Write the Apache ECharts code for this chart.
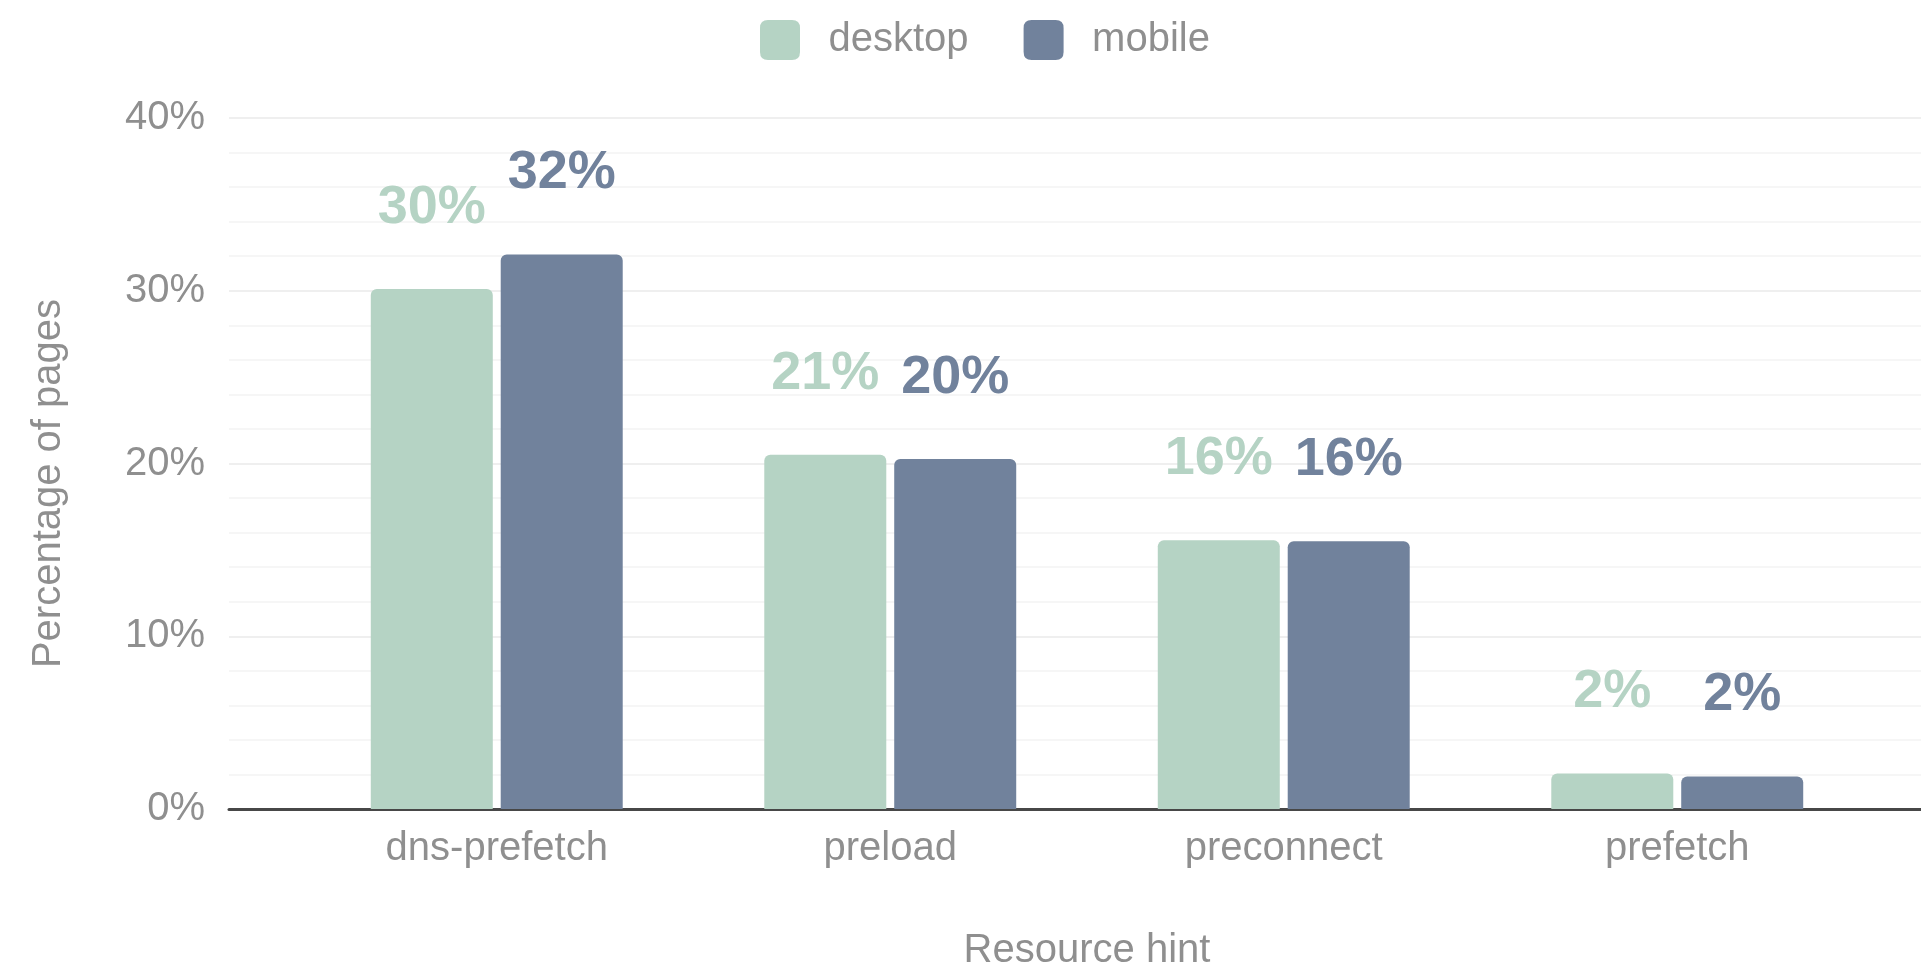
<!DOCTYPE html>
<html>
<head>
<meta charset="utf-8">
<title>Resource hint adoption</title>
<script src="https://cdn.jsdelivr.net/npm/echarts@6/dist/echarts.min.js"></script>
<style>
  html, body { margin: 0; padding: 0; background: #ffffff; }
  #chart { width: 1921px; height: 971px; }
</style>
</head>
<body>
<div id="chart"></div>
<script>
// Share of pages using each resource hint, by client
const categories = ['dns-prefetch', 'preload', 'preconnect', 'prefetch'];
const seriesNames = ['desktop', 'mobile'];
const desktopValues = [30.1, 20.51, 15.55, 2.05];
const mobileValues = [32.1, 20.26, 15.5, 1.88];
const yTicks = [0, 10, 20, 30, 40];

const FONT = '"Liberation Sans", Arial, Helvetica, sans-serif';
const DESKTOP_COLOR = '#b5d3c4';
const MOBILE_COLOR = '#71829c';
const TEXT_GRAY = '#8f8f8f';

// legend swatch: square with slightly rounded corners
const SWATCH = 'path://M2,0 L8,0 Q10,0 10,2 L10,8 Q10,10 8,10 L2,10 Q0,10 0,8 L0,2 Q0,0 2,0 Z';

const chart = echarts.init(document.getElementById('chart'), null, { renderer: 'canvas' });

function barSeries(name, values, color) {
  return {
    name: name,
    type: 'bar',
    xAxisIndex: 1,
    yAxisIndex: 1,
    data: values,
    barWidth: 122,
    barGap: '6.5%',
    itemStyle: { color: color, borderRadius: [6, 6, 0, 0] },
    label: {
      show: true,
      position: 'top',
      distance: 54,
      color: color,
      fontFamily: FONT,
      fontWeight: 'bold',
      fontSize: 54,
      formatter: p => Math.round(p.value) + '%'
    }
  };
}

chart.setOption({
  animation: false,
  backgroundColor: '#ffffff',
  textStyle: { fontFamily: FONT },
  legend: {
    data: seriesNames,
    left: 755,
    top: 15,
    icon: SWATCH,
    itemWidth: 41,
    itemHeight: 40,
    itemGap: 55,
    textStyle: {
      color: TEXT_GRAY,
      fontSize: 40,
      fontFamily: FONT,
      padding: [0, 0, 0, 23]
    }
  },
  grid: [
    // full-width grid carrying the gridlines and baseline
    { left: 229, right: 0, top: 118, bottom: 162, outerBoundsMode: 'none' },
    // inner grid holding the category bands and bars
    { left: 300, right: 47, top: 118, bottom: 162, outerBoundsMode: 'none' }
  ],
  xAxis: [
    {
      gridIndex: 0,
      type: 'value',
      min: 0,
      max: 1,
      axisLine: { show: true, lineStyle: { color: '#474747', width: 3 } },
      axisTick: { show: false },
      axisLabel: { show: false },
      splitLine: { show: false }
    },
    {
      gridIndex: 1,
      type: 'category',
      data: categories,
      name: 'Resource hint',
      nameLocation: 'middle',
      nameGap: 122,
      nameTextStyle: { color: TEXT_GRAY, fontSize: 40, fontFamily: FONT },
      axisLine: { show: false },
      axisTick: { show: false },
      axisLabel: { color: TEXT_GRAY, fontSize: 40, fontFamily: FONT, margin: 20 }
    }
  ],
  yAxis: [
    {
      gridIndex: 0,
      type: 'value',
      min: yTicks[0],
      max: yTicks[yTicks.length - 1],
      interval: 10,
      name: 'Percentage of pages',
      nameLocation: 'middle',
      nameGap: 160,
      nameTextStyle: { color: TEXT_GRAY, fontSize: 40, fontFamily: FONT, padding: [0, 40, 0, 0] },
      axisLine: { show: false },
      axisTick: { show: false },
      axisLabel: { color: TEXT_GRAY, fontSize: 40, fontFamily: FONT, margin: 24, formatter: '{value}%' },
      splitLine: { show: true, lineStyle: { color: '#efefef', width: 2 } },
      minorTick: { show: false, splitNumber: 5 },
      minorSplitLine: { show: true, lineStyle: { color: '#f6f6f6', width: 2 } }
    },
    {
      gridIndex: 1,
      type: 'value',
      min: yTicks[0],
      max: yTicks[yTicks.length - 1],
      show: false,
      splitLine: { show: false }
    }
  ],
  series: [
    barSeries(seriesNames[0], desktopValues, DESKTOP_COLOR),
    barSeries(seriesNames[1], mobileValues, MOBILE_COLOR)
  ]
});
</script>
</body>
</html>
